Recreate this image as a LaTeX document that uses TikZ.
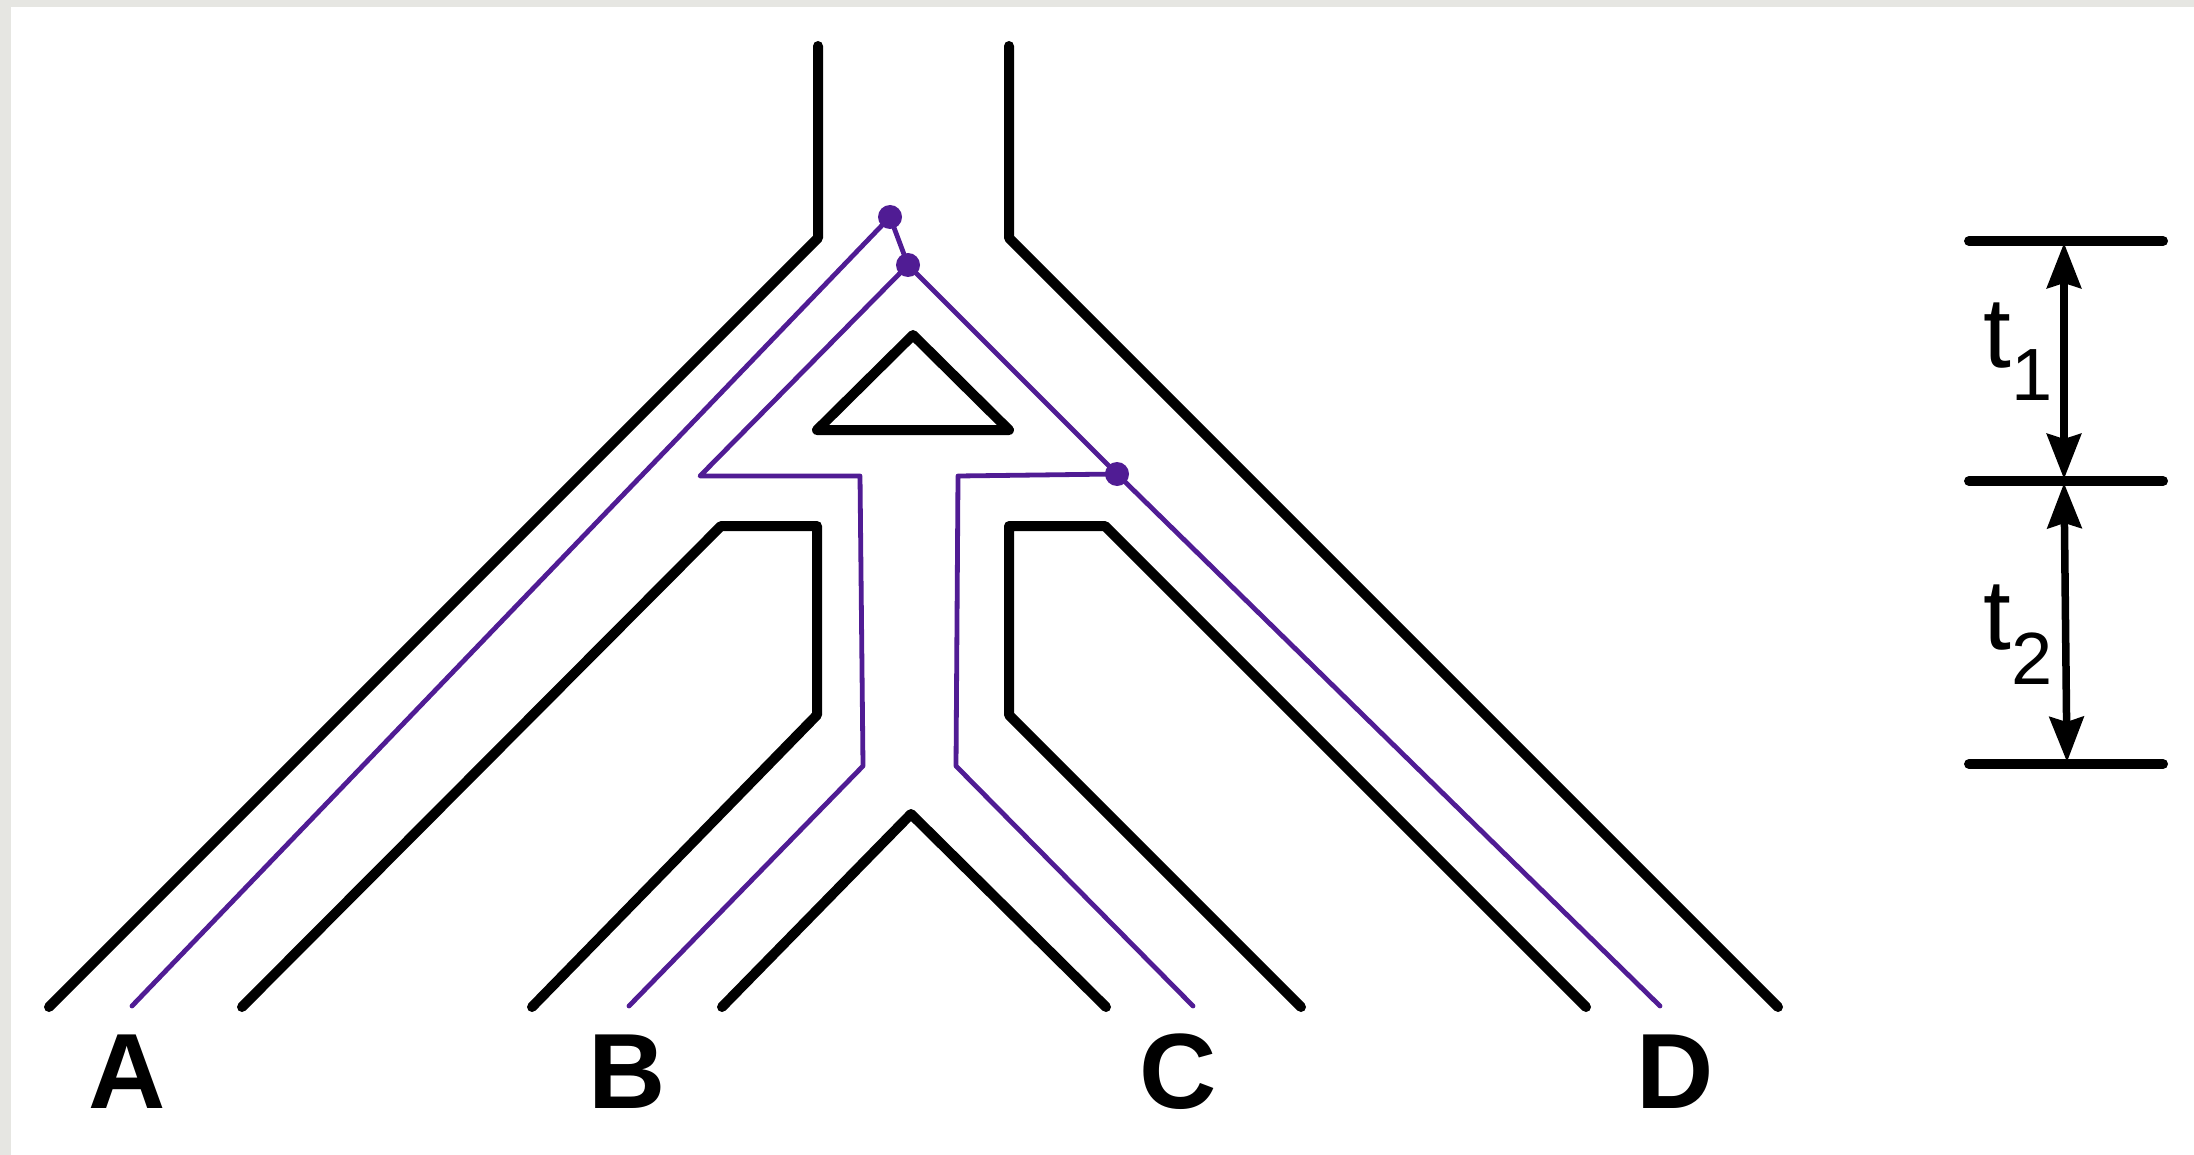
\documentclass[tikz,border=0pt]{standalone}
\usepackage{fontspec}
\setmainfont{Liberation Sans}
\usetikzlibrary{arrows.meta}
\definecolor{lineage}{RGB}{80,28,148}
\definecolor{edgegray}{RGB}{230,230,226}
\begin{document}
\begin{tikzpicture}[x=1pt,y=-1pt,
  tube/.style={line width=10pt, line cap=round, line join=round},
  gene/.style={draw=lineage, line width=4.8pt, line cap=round, line join=round},
  event/.style={circle, fill=lineage, inner sep=0pt, minimum size=24pt},
  taxon/.style={font=\fontsize{107}{120}\selectfont\bfseries, anchor=base, inner sep=0pt},
  tletter/.style={font=\fontsize{100}{110}\selectfont, anchor=base, inner sep=0pt},
  tsub/.style={font=\fontsize{74}{84}\selectfont, anchor=base, inner sep=0pt},
  span/.style={line width=7.5pt, {Stealth[length=45pt,width=34pt,inset=5pt]}-{Stealth[length=45pt,width=34pt,inset=5pt]}}
]
% canvas and frame strips
\useasboundingbox (0,0) rectangle (2194,1155);
\fill[white] (0,0) rectangle (2194,1155);
\fill[edgegray] (0,0) rectangle (2194,7);
\fill[edgegray] (0,0) rectangle (11,1155);

% species tree outline
\coordinate (ol0) at (818,46);   \coordinate (ol1) at (818,238);  \coordinate (ol2) at (49,1007);
\coordinate (or0) at (1009,46);  \coordinate (or1) at (1009,238); \coordinate (or2) at (1778,1007);
\coordinate (il0) at (242,1007); \coordinate (il1) at (721,526);  \coordinate (il2) at (817,526);
\coordinate (il3) at (817,715);  \coordinate (il4) at (532,1007);
\coordinate (ir0) at (1301,1007);\coordinate (ir1) at (1009,715); \coordinate (ir2) at (1009,526);
\coordinate (ir3) at (1105,526); \coordinate (ir4) at (1586,1007);
\coordinate (v0) at (722,1007);  \coordinate (v1) at (911,814);   \coordinate (v2) at (1106,1007);
\coordinate (tr0) at (913,335);  \coordinate (tr1) at (1009,430); \coordinate (tr2) at (817,430);

\draw[tube] (ol0) -- (ol1) -- (ol2);
\draw[tube] (or0) -- (or1) -- (or2);
\draw[tube] (il0) -- (il1) -- (il2) -- (il3) -- (il4);
\draw[tube] (ir0) -- (ir1) -- (ir2) -- (ir3) -- (ir4);
\draw[tube] (v0) -- (v1) -- (v2);
\draw[tube] (tr0) -- (tr1) -- (tr2) -- cycle;

% gene tree inside the species tree
\coordinate (c1) at (890,217);
\coordinate (c2) at (908,265);
\coordinate (c3) at (1117,474);
\coordinate (ga) at (132,1006);
\coordinate (gb0) at (700,476);  \coordinate (gb1) at (860,476);
\coordinate (gb2) at (863,766);  \coordinate (gb) at (629,1006);
\coordinate (gc0) at (958,476);  \coordinate (gc1) at (956,766);
\coordinate (gc) at (1193,1006);
\coordinate (gd) at (1660,1006);

\draw[gene] (ga) -- (c1) -- (c2);
\draw[gene] (gb) -- (gb2) -- (gb1) -- (gb0) -- (c2) -- (c3) -- (gd);
\draw[gene] (c3) -- (gc0) -- (gc1) -- (gc);

\node[event] (e1) at (c1) {};
\node[event] (e2) at (c2) {};
\node[event] (e3) at (c3) {};

% tip labels
\node[taxon] (A) at (127.5,1108) {A};
\node[taxon] (B) at (627,1108) {B};
\node[taxon] (C) at (1178,1108) {C};
\node[taxon] (D) at (1675,1108) {D};

% time scale
\coordinate (h1a) at (1969,241); \coordinate (h1b) at (2163,241);
\coordinate (h2a) at (1969,481); \coordinate (h2b) at (2163,481);
\coordinate (h3a) at (1969,764); \coordinate (h3b) at (2163,764);
\draw[tube] (h1a) -- (h1b);
\draw[tube] (h2a) -- (h2b);
\draw[tube] (h3a) -- (h3b);
\coordinate (p1) at (2064,243); \coordinate (p2) at (2064,479);
\coordinate (p3) at (2064,483); \coordinate (p4) at (2067,762);
\draw[span] (p1) -- (p2);
\draw[span] (p3) -- (p4);

\node[tletter] (t1) at (1997.5,367) {t};
\node[tsub] (s1) at (2032,400) {1};
\node[tletter] (t2) at (1997.5,649) {t};
\node[tsub] (s2) at (2032,684) {2};
\end{tikzpicture}
\end{document}
